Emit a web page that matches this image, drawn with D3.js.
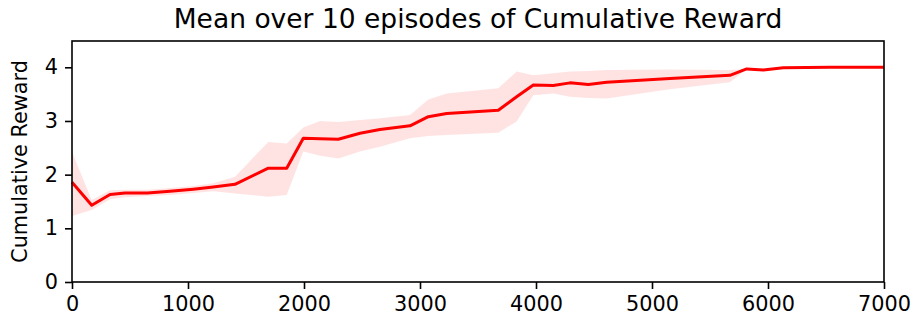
<!DOCTYPE html>
<html>
<head>
<meta charset="utf-8">
<script src="https://cdn.jsdelivr.net/npm/d3@7"></script>
<style>
  body { margin: 0; background: #fff; }
  text { font-family: "DejaVu Sans", sans-serif; fill: #000; }
</style>
</head>
<body>
<div id="chart"></div>
<script>
// Mean over 10 episodes of Cumulative Reward
const steps = [0, 170, 328, 457, 650, 845, 1046, 1218, 1405, 1692, 1851, 1994, 2138, 2296, 2483, 2655,
  2914, 3072, 3230, 3675, 3833, 3977, 4149, 4293, 4451, 4609, 5155, 5672, 5816, 5960, 6132, 6534, 7000];
const meanReward = [1.86, 1.43, 1.63, 1.66, 1.66, 1.69, 1.73, 1.77, 1.82, 2.12, 2.12, 2.68, 2.67, 2.66, 2.77, 2.84,
  2.91, 3.08, 3.14, 3.20, 3.45, 3.67, 3.66, 3.71, 3.68, 3.72, 3.79, 3.85, 3.97, 3.95, 3.99, 4.00, 4.00];
const upperReward = [2.42, 1.53, 1.71, 1.72, 1.72, 1.75, 1.79, 1.84, 1.96, 2.61, 2.58, 2.88, 3.00, 2.98, 3.02, 3.05,
  3.11, 3.40, 3.51, 3.61, 3.92, 3.85, 3.89, 3.92, 3.93, 3.95, 3.96, 3.95, 3.97, 3.95, 3.99, 4.00, 4.00];
const lowerReward = [1.23, 1.34, 1.54, 1.58, 1.60, 1.62, 1.66, 1.69, 1.65, 1.59, 1.62, 2.43, 2.35, 2.30, 2.43, 2.52,
  2.68, 2.72, 2.74, 2.78, 2.99, 3.48, 3.51, 3.45, 3.43, 3.42, 3.59, 3.72, 3.97, 3.95, 3.99, 4.00, 4.00];
const xTicks = [0, 1000, 2000, 3000, 4000, 5000, 6000, 7000];
const yTicks = [0, 1, 2, 3, 4];

function createChart() {
    const width = 915, height = 329;
    const margin = { top: 41, right: 31, bottom: 47, left: 72 };

    const svg = d3.select("#chart").append("svg")
        .attr("width", width)
        .attr("height", height);

    const x = d3.scaleLinear().domain([0, 7000]).range([margin.left, width - margin.right]);
    const y = d3.scaleLinear().domain([0, 4.49]).range([height - margin.bottom, margin.top]);

    const data = steps.map((s, i) => ({ s, m: meanReward[i], hi: upperReward[i], lo: lowerReward[i] }));

    // shaded band
    svg.append("path")
        .datum(data)
        .attr("d", d3.area().x(d => x(d.s)).y0(d => y(d.lo)).y1(d => y(d.hi)))
        .style("fill", "red")
        .style("fill-opacity", 0.11);

    // mean line
    svg.append("path")
        .datum(data)
        .attr("d", d3.line().x(d => x(d.s)).y(d => y(d.m)))
        .style("fill", "none")
        .style("stroke", "red")
        .style("stroke-width", 3)
        .style("stroke-linejoin", "round");

    // axes
    const xAxis = svg.append("g")
        .attr("transform", `translate(0, ${height - margin.bottom})`)
        .call(d3.axisBottom(x).tickValues(xTicks).tickFormat(d3.format("d")).tickSize(7).tickPadding(7).tickSizeOuter(0));
    const yAxis = svg.append("g")
        .attr("transform", `translate(${margin.left}, 0)`)
        .call(d3.axisLeft(y).tickValues(yTicks).tickFormat(d3.format("d")).tickSize(7).tickPadding(7).tickSizeOuter(0));

    [xAxis, yAxis].forEach(a => {
        a.select(".domain").remove();
        a.selectAll(".tick line").style("stroke", "#000").style("stroke-width", 1.6);
        a.selectAll(".tick text").style("font-size", "20.8px").style("font-family", "DejaVu Sans").style("fill", "#000");
    });

    // frame
    svg.append("rect")
        .attr("x", margin.left)
        .attr("y", margin.top)
        .attr("width", width - margin.left - margin.right)
        .attr("height", height - margin.top - margin.bottom)
        .style("fill", "none")
        .style("stroke", "#000")
        .style("stroke-width", 1.6);

    // title
    svg.append("text")
        .attr("x", (margin.left + width - margin.right) / 2)
        .attr("y", 28)
        .attr("text-anchor", "middle")
        .style("font-size", "26.5px")
        .text("Mean over 10 episodes of Cumulative Reward");

    // y label
    svg.append("text")
        .attr("transform", `translate(27, ${(margin.top + height - margin.bottom) / 2}) rotate(-90)`)
        .attr("text-anchor", "middle")
        .style("font-size", "20.8px")
        .text("Cumulative Reward");
}

createChart();
</script>
</body>
</html>
